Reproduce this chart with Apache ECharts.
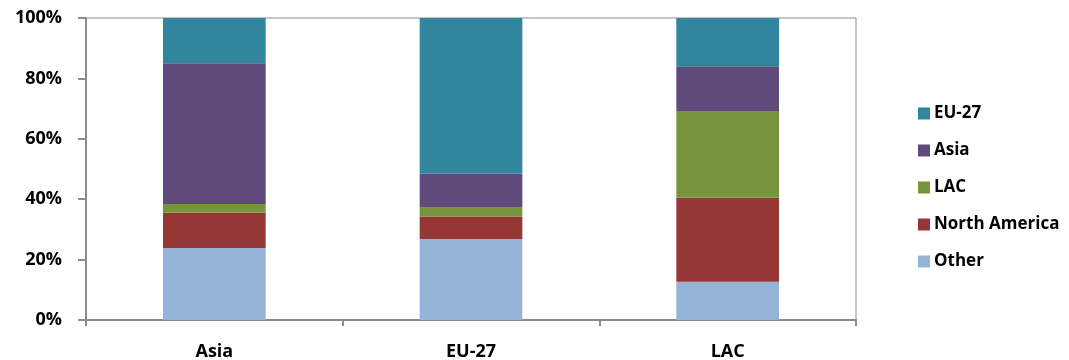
<!DOCTYPE html>
<html>
<head>
<meta charset="utf-8">
<script src="https://cdn.jsdelivr.net/npm/echarts@6/dist/echarts.min.js"></script>
<style>html,body{margin:0;padding:0;background:#fff}#c{width:1069px;height:360px}</style>
</head>
<body>
<div id="c"></div>
<script>
var categories = ['Asia', 'EU-27', 'LAC'];
var other = [23.8, 26.8, 12.7];
var northAmerica = [11.7, 7.5, 27.8];
var lac = [2.9, 3.1, 28.7];
var asia = [46.6, 11.1, 14.8];
var eu27 = [15.0, 51.5, 16.0];
var yTicks = [0, 20, 40, 60, 80, 100];

var FONT = '"Open Sans", "Liberation Sans", Arial, sans-serif';
var chart = echarts.init(document.getElementById('c'), null, {renderer: 'canvas'});
function s(name, data, color) {
  return {name: name, type: 'bar', stack: 'total', data: data, barWidth: '40%',
    itemStyle: {color: color}, emphasis: {disabled: true}};
}
chart.setOption({
  animation: false,
  grid: {left: 86, right: 213, top: 18, bottom: 40, containLabel: false, outerBoundsMode: 'none',
    show: true, borderColor: '#8c8c8c', borderWidth: 1, backgroundColor: 'transparent'},
  legend: {
    orient: 'vertical', left: 913, top: 100, itemWidth: 12, itemHeight: 12, itemGap: 20,
    icon: 'rect',
    data: ['EU-27', 'Asia', 'LAC', 'North America', 'Other'],
    textStyle: {fontFamily: FONT, fontWeight: 'bold', fontSize: 17, color: '#000', padding: [0, 0, 0, -1]}
  },
  xAxis: {
    type: 'category', data: categories,
    axisLine: {lineStyle: {color: '#8c8c8c', width: 2}},
    axisTick: {show: true, length: 6, lineStyle: {color: '#8c8c8c', width: 2}},
    axisLabel: {fontFamily: FONT, fontWeight: 'bold', fontSize: 18, color: '#000', margin: 23}
  },
  yAxis: {
    type: 'value', min: 0, max: 100, interval: 20,
    axisLine: {show: true, lineStyle: {color: '#8c8c8c', width: 2}},
    axisTick: {show: true, length: 8, lineStyle: {color: '#8c8c8c', width: 2}},
    splitLine: {show: false},
    axisLabel: {fontFamily: FONT, fontWeight: 'bold', fontSize: 18, color: '#000', margin: 24,
      formatter: function (v) { return yTicks.indexOf(v) >= 0 ? v + '%' : ''; }}
  },
  series: [
    s('Other', other, '#95B3D7'),
    s('North America', northAmerica, '#953735'),
    s('LAC', lac, '#77933C'),
    s('Asia', asia, '#604A7B'),
    s('EU-27', eu27, '#31859C')
  ]
});
</script>
</body>
</html>
